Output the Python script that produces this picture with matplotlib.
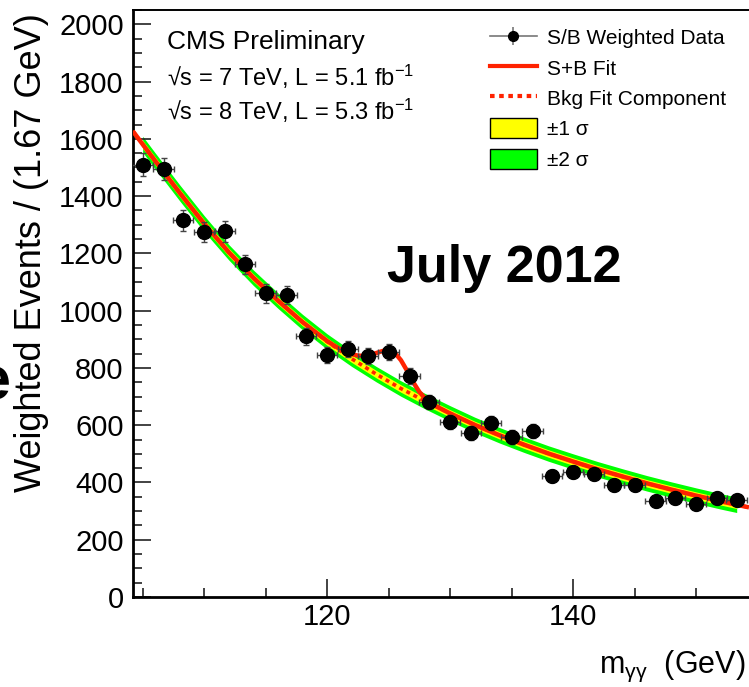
import numpy as np
import matplotlib
matplotlib.use('Agg')
import matplotlib.pyplot as plt
from matplotlib.ticker import MultipleLocator
from matplotlib.lines import Line2D
from matplotlib.patches import Patch

plt.rcParams['font.family'] = ['Liberation Sans', 'DejaVu Sans']
plt.rcParams['mathtext.fontset'] = 'custom'
plt.rcParams['mathtext.rm'] = 'Liberation Sans'
plt.rcParams['mathtext.it'] = 'Liberation Sans:italic'

# S/B weighted data (bin centres, 1.67 GeV bins)
mass = [105.0, 106.7, 108.3, 110.0, 111.7, 113.3, 115.0, 116.7, 118.3, 120.0,
        121.7, 123.3, 125.0, 126.7, 128.3, 130.0, 131.7, 133.3, 135.0, 136.7,
        138.3, 140.0, 141.7, 143.3, 145.0, 146.7, 148.3, 150.0, 151.7, 153.3]
events = [1510, 1495, 1315, 1275, 1277, 1162, 1060, 1055, 911, 845,
          866, 841, 856, 771, 681, 610, 572, 608, 558, 579,
          422, 437, 429, 391, 390, 334, 344, 326, 344, 339]
events_err = [39, 39, 36, 36, 36, 34, 33, 32, 30, 29,
              29, 29, 29, 28, 26, 25, 24, 25, 24, 24,
              21, 21, 21, 20, 20, 18, 19, 18, 19, 18]
half_bin = 0.83

# background fit component and its uncertainty bands
bkg_x = [104.2, 105.0, 106, 108, 110, 112, 114, 116, 118, 120, 122, 124, 126, 128,
         130, 132, 134, 136, 138, 140, 142, 144, 146, 148, 150, 152, 153.3, 154.3]
bkg_y = [1627, 1581, 1524, 1412, 1304, 1204, 1115, 1035, 960, 892, 832, 778, 728, 683,
         641, 601, 565, 532, 501, 473, 446, 421, 397, 375, 354, 334, 322, 313]
sig1 = [14, 14, 14, 14, 14, 14, 13, 13, 13, 13, 13, 13, 13, 13,
        13, 13, 13, 13, 13, 13, 13, 13, 13, 13, 13, 13, 13, 13]
sig2 = [28, 28, 28, 28, 28, 27, 27, 27, 27, 27, 27, 27, 27, 27,
        27, 27, 27, 27, 27, 27, 27, 27, 27, 27, 27, 27, 27, 27]

# S+B fit around the peak
sb_x = [120, 120.5, 121, 121.5, 122, 122.5, 123, 123.5, 124, 124.5, 125,
        125.5, 126, 126.5, 127, 127.5, 128, 128.5, 129, 129.5, 130]
sb_y = [894, 880, 867, 857, 848, 843, 842, 845, 852, 859, 862,
        853, 827, 790, 750, 716, 692, 676, 663, 652, 641]

W, H = 749, 687
fig = plt.figure(figsize=(W / 100, H / 100), dpi=100)
ax = fig.add_axes([132.7 / W, 1 - 597 / H, 1 - 132.7 / W, 587 / H])

bx = np.array(bkg_x)
by = np.array(bkg_y)
inside = (bx >= 105.0) & (bx <= 153.3)
ax.fill_between(bx, by - np.array(sig2), by + np.array(sig2), where=inside,
                color='#00ff00', lw=0, zorder=1)
ax.fill_between(bx, by - np.array(sig1), by + np.array(sig1), where=inside,
                color='#ffff00', lw=0, zorder=2)
ax.plot(bx, by, color='#ff2200', lw=2.6, ls=(0, (1.1, 1.1)), zorder=3)

fit_x = np.concatenate([bx[bx < 120], sb_x, bx[bx > 130]])
fit_y = np.concatenate([by[bx < 120], sb_y, by[bx > 130]])
ax.plot(fit_x, fit_y, color='#ff2200', lw=3.2, zorder=4, solid_capstyle='butt')

ax.errorbar(mass, events, xerr=half_bin, yerr=events_err, fmt='o',
            color='black', ms=10, ecolor='#444444', elinewidth=1,
            capsize=2, capthick=1, zorder=5)

ax.set_xlim(104.19, 154.3)
ax.set_ylim(0, 2050)
ax.xaxis.set_major_locator(MultipleLocator(20))
ax.xaxis.set_minor_locator(MultipleLocator(5))
ax.yaxis.set_major_locator(MultipleLocator(200))
ax.yaxis.set_minor_locator(MultipleLocator(50))
ax.tick_params(which='both', direction='in', width=1.2, labelsize=21, color='#222222')
ax.tick_params(which='major', length=13)
ax.tick_params(which='minor', length=6.5)
ax.tick_params(axis='y', pad=6.5)
ax.tick_params(axis='x', pad=4.5)
ax.spines['right'].set_visible(False)
ax.spines['left'].set_linewidth(2)
ax.spines['bottom'].set_linewidth(2)
ax.spines['top'].set_linewidth(1.4)

data_handle = (Line2D([], [], color='#777777', lw=1.2),
               Line2D([], [], color='#777777', lw=0, marker='|', ms=13, mew=1.2),
               Line2D([], [], lw=0, marker='o', ms=7, mfc='black', mec='black'))
handles = [data_handle,
           Line2D([], [], color='#ff2200', lw=3),
           Line2D([], [], color='#ff2200', lw=3, ls=(0, (1.1, 1.1))),
           Patch(facecolor='#ffff00', edgecolor='black', lw=1),
           Patch(facecolor='#00ff00', edgecolor='black', lw=1)]
labels = ['S/B Weighted Data', 'S+B Fit', 'Bkg Fit Component', '±1 σ', '±2 σ']
fig.legend(handles, labels, loc='upper left', bbox_to_anchor=(490 / W, 1 - 27 / H),
           frameon=False, fontsize=15, borderpad=0, borderaxespad=0,
           handlelength=2.25, handleheight=1.1, handletextpad=0.5, labelspacing=0.45)

fig.text(167 / W, 1 - 49 / H, 'CMS Preliminary', fontsize=19, va='baseline')
fig.text(167 / W, 1 - 86 / H, '√s = 7 TeV, L = 5.1 fb$^{-1}$', fontsize=17, va='baseline')
fig.text(167 / W, 1 - 120 / H, '√s = 8 TeV, L = 5.3 fb$^{-1}$', fontsize=17, va='baseline')
fig.text(387 / W, 1 - 282 / H, 'July 2012', fontsize=37.5, weight='bold', va='baseline')

fig.text(745 / W, 1 - 673 / H, r'm$_{\mathrm{γγ}}$  (GeV)', fontsize=22, ha='right', va='baseline')
fig.text(32 / W, 1 - 492 / H, 'Weighted Events / (1.67 GeV)', fontsize=26,
         rotation=90, ha='center', va='bottom')
# partly visible letter at the left edge
fig.text(-6 / W, 1 - 400 / H, 'e', fontsize=44, weight='bold', ha='center', va='baseline')

fig.savefig('out.png', dpi=100)
